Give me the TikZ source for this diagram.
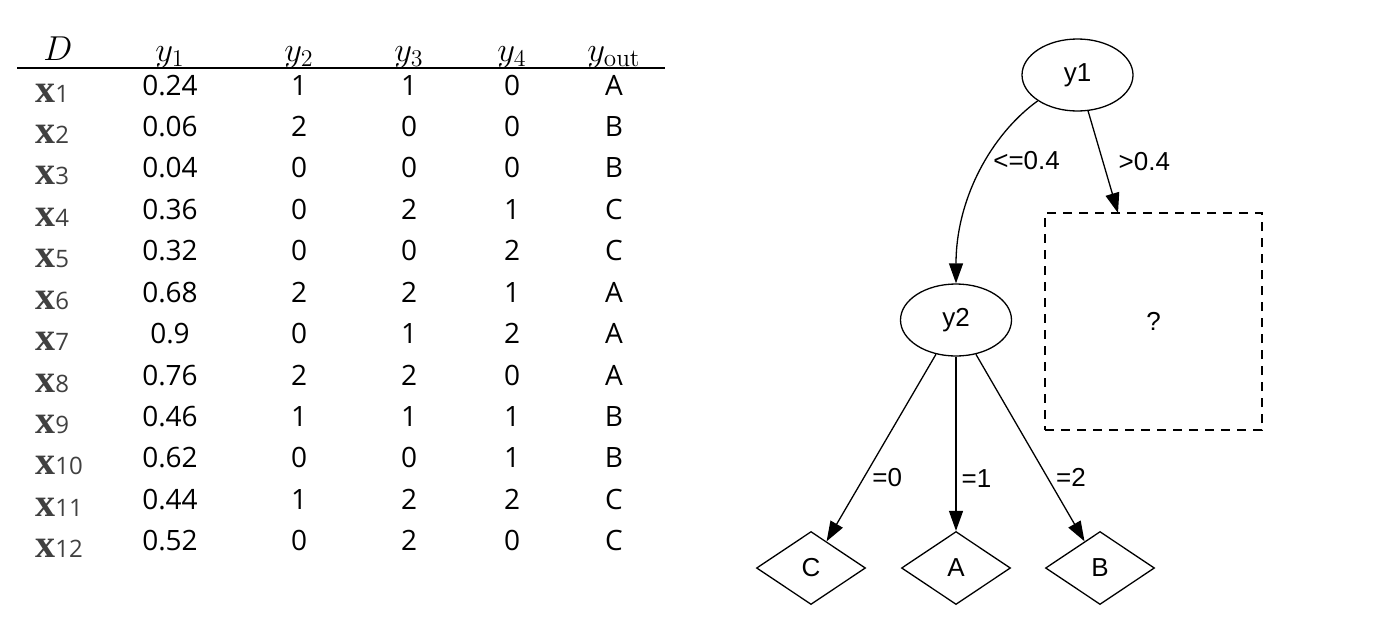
\documentclass[tikz,border=0pt]{standalone}
\usepackage{fontspec}
\usepackage{amsmath}
\usetikzlibrary{positioning}
\usetikzlibrary{shapes.geometric}
\usetikzlibrary{arrows.meta}
\newfontfamily\tabfont{Open Sans}
\newfontfamily\treefont{Liberation Sans}
\newfontfamily\xfont{Liberation Serif}

\begin{document}
\begin{tikzpicture}[x=0.5pt,y=-0.5pt,
  num/.style={anchor=base,inner sep=0pt,font=\tabfont\fontsize{14}{16}\selectfont},
  head/.style={anchor=base,inner sep=0pt,font=\fontsize{18}{20}\selectfont},
  rowlab/.style={anchor=base west,inner sep=0pt,text=black!75},
  tnode/.style={ellipse,draw,line width=0.65pt,minimum width=55.5pt,minimum height=36pt,inner sep=0pt,font=\treefont\fontsize{13}{15}\selectfont},
  leaf/.style={diamond,draw,line width=0.65pt,minimum width=54.5pt,minimum height=36.5pt,inner sep=0pt,font=\treefont\fontsize{13}{15}\selectfont},
  qframe/.style={draw,dash pattern=on 4.5pt off 3.5pt,line width=0.65pt,minimum size=108.5pt,inner sep=0pt,font=\treefont\fontsize{13}{15}\selectfont},
  edge/.style={line width=0.65pt,-{Triangle[length=10pt,width=7pt]}},
  lbl/.style={anchor=west,inner sep=1pt,font=\treefont\fontsize{13}{15}\selectfont}]

 \useasboundingbox (0,0) rectangle (1390,632);

 \node[head] (hD) at (58,60) {$D$};
 \node[head] (h1) at (170,61) {$y_1$};
 \node[head] (h2) at (299,61) {$y_2$};
 \node[head] (h3) at (409,61) {$y_3$};
 \node[head] (h4) at (512,61) {$y_4$};
 \node[head] (ho) at (614,61) {$y_{\mathrm{out}}$};
 \draw[line width=1pt] (17,68) -- (665,68);

 \foreach \i/\a/\b/\c/\d/\e in {1/0.24/1/1/0/A, 2/0.06/2/0/0/B, 3/0.04/0/0/0/B, 4/0.36/0/2/1/C,
   5/0.32/0/0/2/C, 6/0.68/2/2/1/A, 7/0.9/0/1/2/A, 8/0.76/2/2/0/A,
   9/0.46/1/1/1/B, 10/0.62/0/0/1/B, 11/0.44/1/2/2/C, 12/0.52/0/2/0/C}{
  \node[rowlab] (x\i) at (35,{102+41.44*(\i-1)}) {{\xfont\bfseries\fontsize{20}{22}\selectfont x}{\tabfont\fontsize{12}{14}\selectfont\i}};
  \node[num] (a\i) at (170,{95+41.44*(\i-1)}) {\a};
  \node[num] (b\i) at (299,{95+41.44*(\i-1)}) {\b};
  \node[num] (c\i) at (409,{95+41.44*(\i-1)}) {\c};
  \node[num] (d\i) at (512,{95+41.44*(\i-1)}) {\d};
  \node[num] (e\i) at (614,{95+41.44*(\i-1)}) {\e};
 }

 \node[tnode] (y1) at (1077.5,75) {y1};
 \node[tnode] (y2) at (956,320) {y2};
 \node[qframe] (qbox) at (1153.5,321.5) {?};
 \node[leaf] (C) at (811,568) {C};
 \node[leaf] (A) at (956,568) {A};
 \node[leaf] (B) at (1100,568) {B};
 \coordinate (qin) at (1118,213);

 \draw[edge] (y1.213) .. controls +(-47,34) and +(0,-84) .. (y2.north) node[lbl,pos=0.43,xshift=2.5pt] {<=0.4};
 \draw[edge] (y1) -- (qin) node[lbl,pos=0.5,xshift=6.5pt] {>0.4};
 \draw[edge] (y2) -- (C) node[lbl,pos=0.66,xshift=3pt] {=0};
 \draw[edge] (y2) -- (A) node[lbl,pos=0.7,xshift=1.5pt] {=1};
 \draw[edge] (y2) -- (B) node[lbl,pos=0.66,xshift=3pt] {=2};
\end{tikzpicture}
\end{document}
